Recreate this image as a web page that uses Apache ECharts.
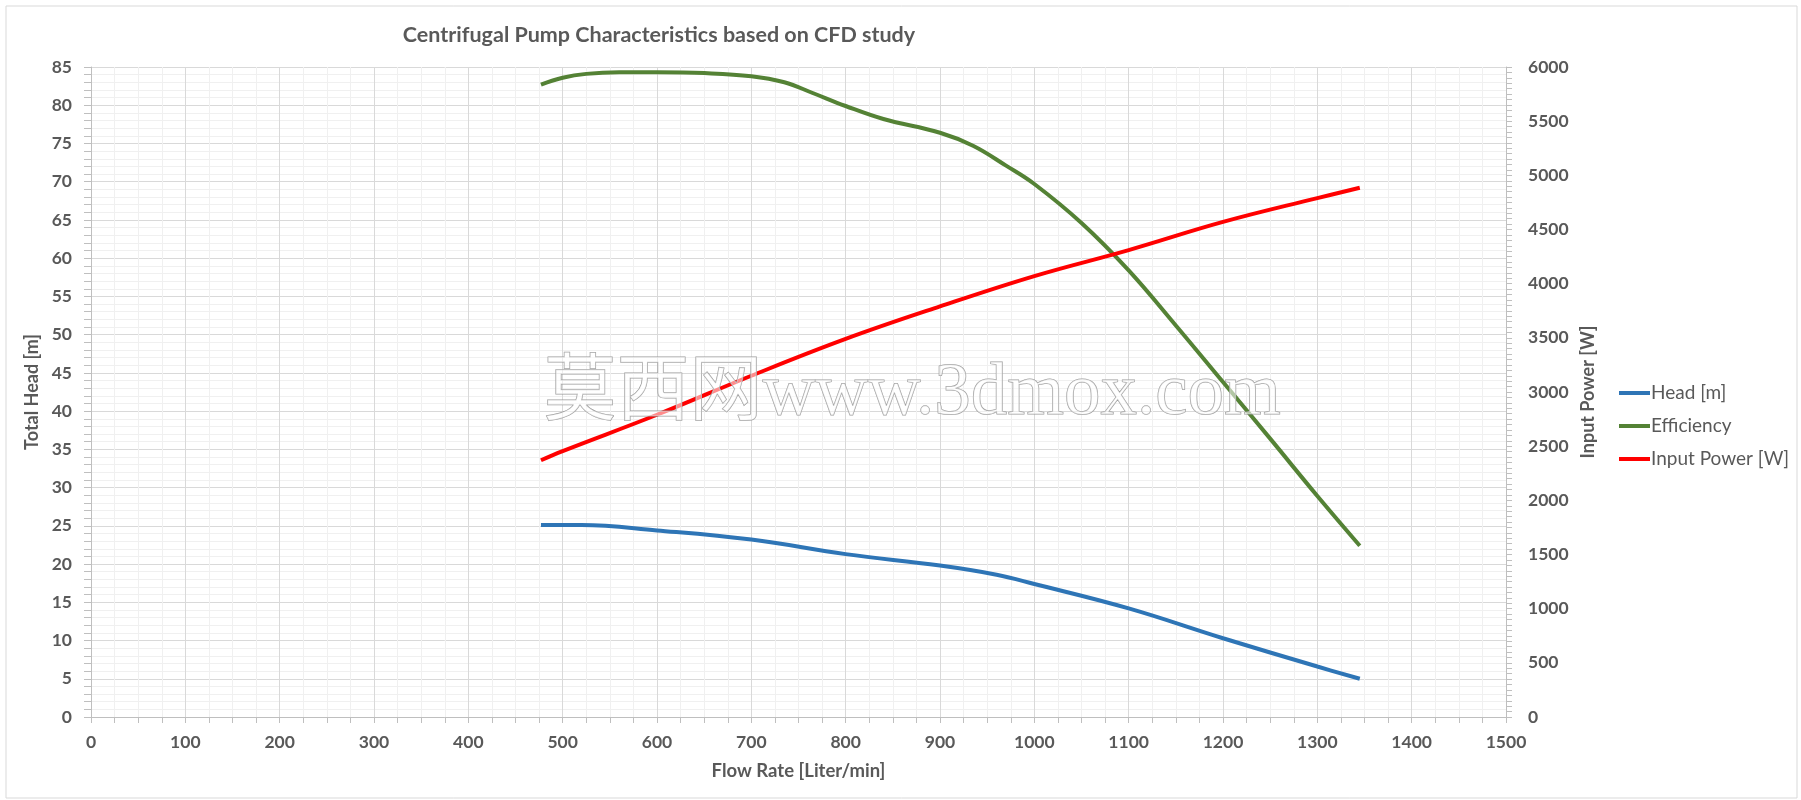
<!DOCTYPE html>
<html>
<head>
<meta charset="utf-8">
<script src="https://cdn.jsdelivr.net/npm/echarts@6/dist/echarts.min.js"></script>
<style>
html,body{margin:0;padding:0;background:#fff;}
#chart{width:1801px;height:800px;}
</style>
</head>
<body>
<div id="chart"></div>
<script>
// ---- data ----
const titleText = 'Centrifugal Pump Characteristics based on CFD study';
const seriesNames = ['Head [m]', 'Efficiency', 'Input Power [W]'];

const headFlow  = [477, 520, 600, 700, 800, 900, 960, 1000, 1100, 1200, 1300, 1345];
const headValue = [25.1, 25.1, 24.4, 23.2, 21.3, 19.8, 18.6, 17.4, 14.2, 10.3, 6.6, 5.0];

const effFlow  = [477, 500, 525, 560, 600, 650, 700, 735, 765, 800, 840, 900, 935, 970, 1000, 1050, 1100, 1150, 1200, 1250, 1300, 1345];
const effValue = [82.7, 83.6, 84.1, 84.3, 84.3, 84.2, 83.8, 83.0, 81.6, 79.9, 78.2, 76.4, 74.7, 72.1, 69.7, 64.6, 58.4, 51.2, 43.8, 36.4, 28.9, 22.4];

const powFlow  = [477, 500, 600, 700, 800, 900, 1000, 1100, 1200, 1300, 1345];
const powValue = [2370, 2455, 2790, 3150, 3490, 3790, 4070, 4310, 4570, 4790, 4885];

const watermarkText = '莫西网www.3dmox.com';

const pair = (xs, ys) => xs.map((x, i) => [x, ys[i]]);
const plain = v => String(v);

const FONT = 'Lato, "Open Sans", "Noto Sans", sans-serif';
const TXT = '#595959';

const chart = echarts.init(document.getElementById('chart'));
chart.setOption({
  animation: false,
  backgroundColor: '#ffffff',
  title: {
    text: titleText,
    left: 659, top: 24, textAlign: 'center', padding: 0,
    textStyle: {fontFamily: FONT, fontSize: 21.5, fontWeight: 'bold', color: TXT}
  },
  legend: {
    orient: 'vertical', left: 1614, top: 378,
    itemWidth: 31, itemHeight: 4, itemGap: 13, icon: 'rect',
    textStyle: {fontFamily: FONT, fontSize: 19, color: TXT, lineHeight: 20, padding: [0,0,0,-4]},
    data: seriesNames
  },
  grid: {left: 91, right: 295, top: 67, bottom: 83, containLabel: false},
  xAxis: {
    type: 'value', min: 0, max: 1500, interval: 100,
    name: 'Flow Rate [Liter/min]', nameLocation: 'middle', nameGap: 45,
    nameTextStyle: {fontFamily: FONT, fontSize: 18.5, fontWeight: 'bold', color: TXT},
    axisLine: {lineStyle: {color: '#bfbfbf'}},
    axisTick: {show: true, length: 6, lineStyle: {color: '#bfbfbf'}},
    minorTick: {show: true, splitNumber: 4, length: 6, lineStyle: {color: '#bfbfbf'}},
    axisLabel: {margin: 16, formatter: plain, fontFamily: FONT, fontSize: 17.5, fontWeight: 'bold', color: TXT},
    splitLine: {show: true, lineStyle: {color: '#d9d9d9'}},
    minorSplitLine: {show: true, lineStyle: {color: '#f0f0f0'}}
  },
  yAxis: [{
    type: 'value', min: 0, max: 85, interval: 5, position: 'left',
    name: 'Total Head [m]', nameLocation: 'middle', nameGap: 44, nameRotate: 90,
    nameTextStyle: {fontFamily: FONT, fontSize: 18, fontWeight: 'bold', color: TXT},
    axisLine: {show: true, lineStyle: {color: '#bfbfbf'}},
    axisTick: {show: true, length: 7, lineStyle: {color: '#bfbfbf'}},
    minorTick: {show: true, splitNumber: 5, length: 7, lineStyle: {color: '#bfbfbf'}},
    axisLabel: {margin: 19, formatter: plain, fontFamily: FONT, fontSize: 17.5, fontWeight: 'bold', color: TXT},
    splitLine: {show: true, lineStyle: {color: '#d9d9d9'}},
    minorSplitLine: {show: true, lineStyle: {color: '#f0f0f0'}}
  }, {
    type: 'value', min: 0, max: 6000, interval: 500, position: 'right',
    name: 'Input Power [W]', nameLocation: 'middle', nameGap: 70, nameRotate: 90,
    nameTextStyle: {fontFamily: FONT, fontSize: 18, fontWeight: 'bold', color: TXT},
    axisLine: {show: true, lineStyle: {color: '#bfbfbf'}},
    axisTick: {show: true, length: 6, lineStyle: {color: '#bfbfbf'}},
    minorTick: {show: true, splitNumber: 10, length: 6, lineStyle: {color: '#bfbfbf'}},
    axisLabel: {margin: 22, formatter: plain, fontFamily: FONT, fontSize: 17.5, fontWeight: 'bold', color: TXT},
    splitLine: {show: false},
    minorSplitLine: {show: false}
  }],
  series: [{
    name: seriesNames[0], type: 'line', yAxisIndex: 0, data: pair(headFlow, headValue),
    smooth: 0.4, showSymbol: false, symbol: 'none',
    lineStyle: {color: '#2E75B6', width: 4}, itemStyle: {color: '#2E75B6'}
  }, {
    name: seriesNames[1], type: 'line', yAxisIndex: 0, data: pair(effFlow, effValue),
    smooth: 0.4, showSymbol: false, symbol: 'none',
    lineStyle: {color: '#548235', width: 4}, itemStyle: {color: '#548235'}
  }, {
    name: seriesNames[2], type: 'line', yAxisIndex: 1, data: pair(powFlow, powValue),
    smooth: 0.4, showSymbol: false, symbol: 'none',
    lineStyle: {color: '#FF0000', width: 4}, itemStyle: {color: '#FF0000'}
  }],
  graphic: [{
    type: 'rect', shape: {x: 6, y: 6, width: 1791, height: 792},
    style: {fill: 'none', stroke: '#d9d9d9', lineWidth: 1}, silent: true, z: -10
  }, {
    type: 'text', left: 543, top: 358, z: 100, silent: true,
    style: {
      text: watermarkText,
      font: '73px "Liberation Serif", "Noto Sans CJK SC", serif',
      fill: 'rgba(255,255,255,0.55)', stroke: '#9a9a9a', lineWidth: 1
    }
  }]
});
</script>
</body>
</html>
